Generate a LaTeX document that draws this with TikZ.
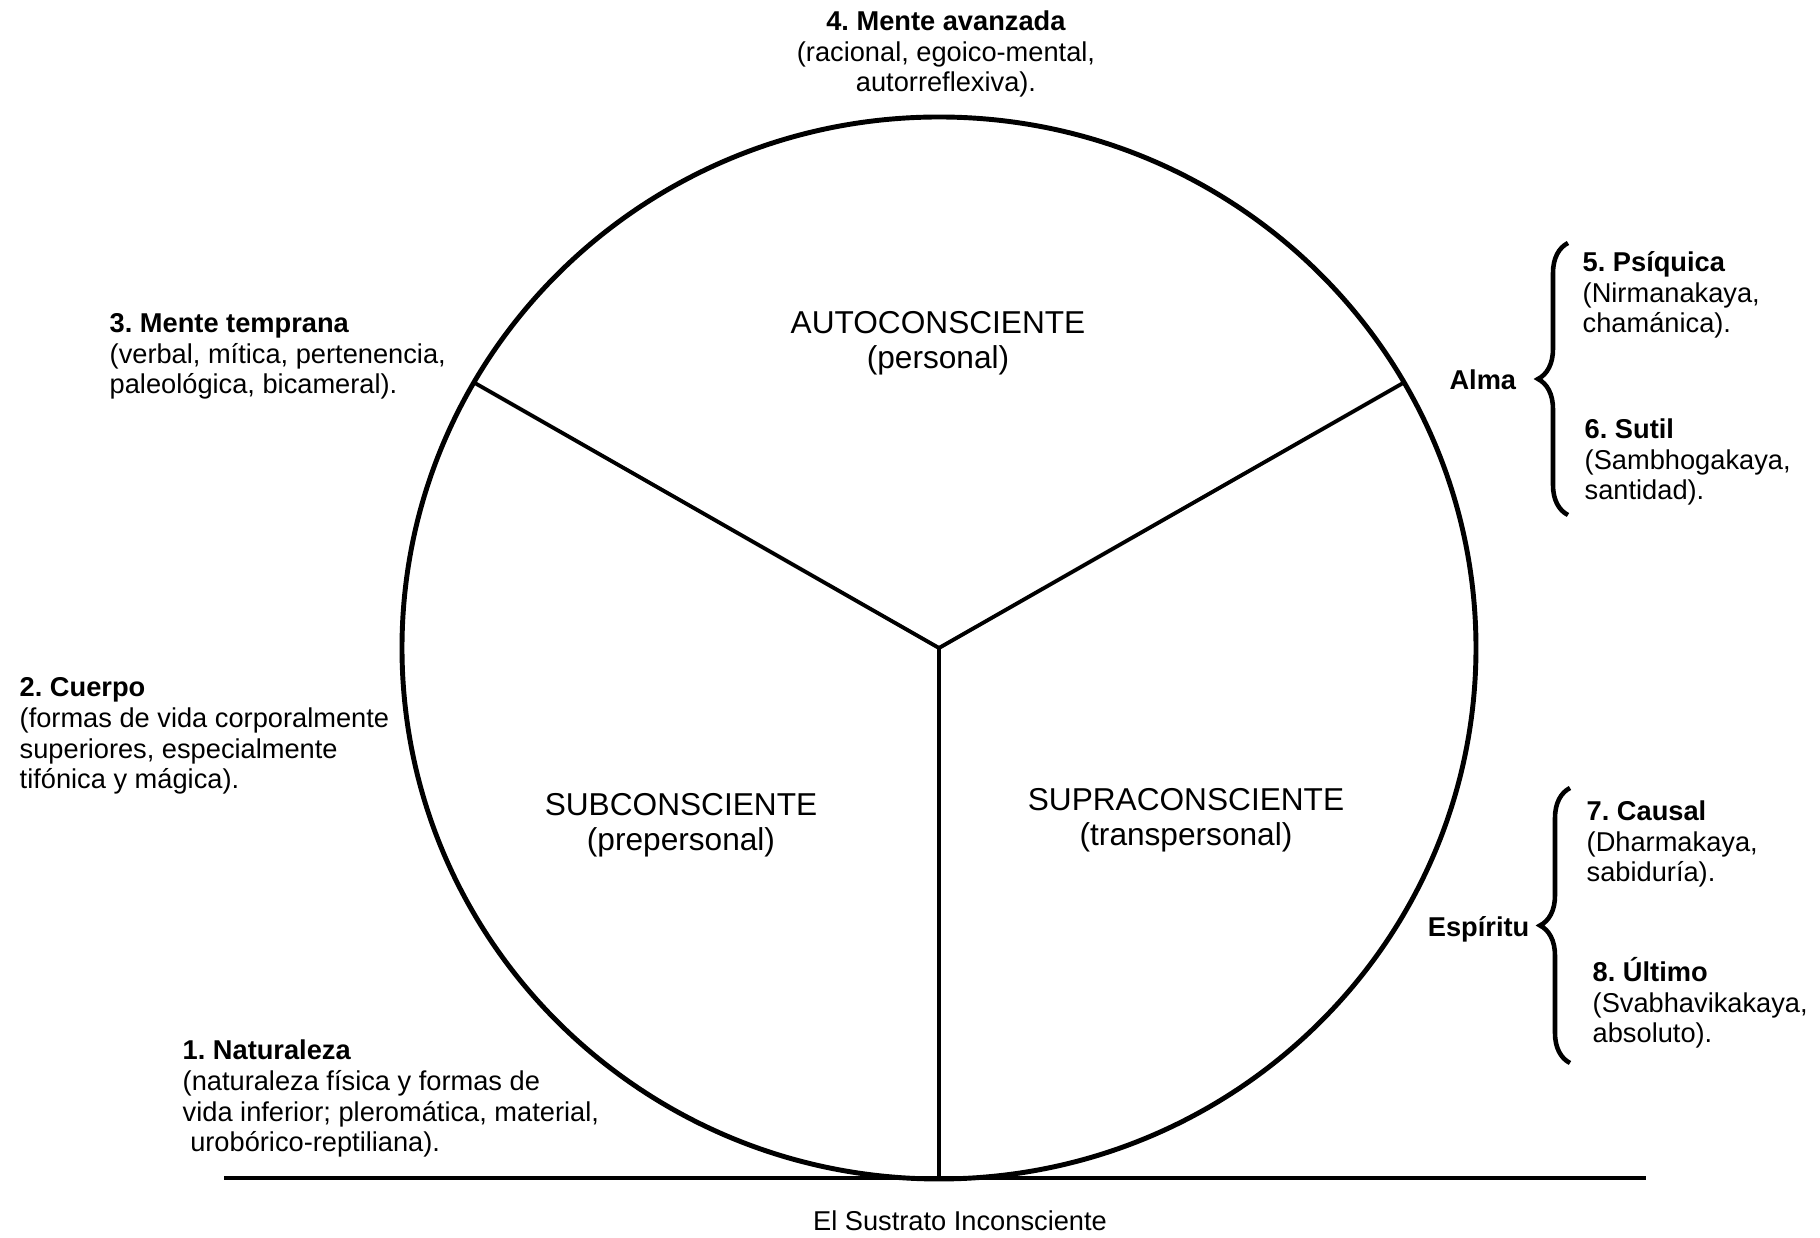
\documentclass[tikz,border=0pt]{standalone}
\usepackage{fontspec}
\setmainfont{Liberation Sans}
\usetikzlibrary{decorations.pathreplacing}
\frenchspacing

\begin{document}
\begin{tikzpicture}[
    lbl/.style={align=left, anchor=base west, inner sep=0pt, font=\fontsize{7.75}{8.8}\selectfont},
    zona/.style={align=center, anchor=base, inner sep=0pt, font=\fontsize{9}{10.1}\selectfont},
    llave/.style={decorate, decoration={brace, amplitude=3mm}, line width=1.3pt}
]
    \useasboundingbox (0,0) rectangle (18.2,12.38);
    \def\rx{5.37}
    \def\ry{5.31}

    % Circulo y sustrato
    \coordinate (c) at (9.39,5.90);
    \draw[line width=1.4pt] (c) ellipse[x radius=\rx, y radius=\ry];
    \coordinate (sl) at (2.24,0.60);
    \coordinate (sr) at (16.46,0.60);
    \draw[line width=1.3pt] (sl) -- (sr);

    % Tres sectores
    \path (c) ++(150:\rx cm and \ry cm) coordinate (a1);
    \path (c) ++(30:\rx cm and \ry cm) coordinate (a2);
    \coordinate (a3) at (c |- sl);
    \draw[line width=1.1pt] (c) -- (a1);
    \draw[line width=1.1pt] (c) -- (a2);
    \draw[line width=1.1pt] (c) -- (a3);

    \node[zona] (auto) at (9.38,8.69) {AUTOCONSCIENTE\\(personal)};
    \node[zona] (sub) at (6.81,3.87) {SUBCONSCIENTE\\(prepersonal)};
    \node[zona] (supra) at (11.86,3.92) {SUPRACONSCIENTE\\(transpersonal)};
    \node[lbl, anchor=base] (sustrato) at (9.60,0.07) {El Sustrato Inconsciente};

    % Niveles a la izquierda (base = ultima linea)
    \node[lbl, align=center, anchor=base] (avanzada) at (9.46,11.46)
        {\textbf{4. Mente avanzada}\\(racional, egoico-mental,\\autorreflexiva).};
    \node[lbl] (temprana) at (1.09,8.44)
        {\textbf{3. Mente temprana}\\(verbal, mítica, pertenencia,\\paleológica, bicameral).};
    \node[lbl] (cuerpo) at (0.19,4.49)
        {\textbf{2. Cuerpo}\\(formas de vida corporalmente\\superiores, especialmente\\tifónica y mágica).};
    \node[lbl] (naturaleza) at (1.82,0.86)
        {\textbf{1. Naturaleza}\\(naturaleza física y formas de\\vida inferior; pleromática, material,\\\ urobórico-reptiliana).};

    % Niveles a la derecha
    \node[lbl] (psiquica) at (15.82,9.05) {\textbf{5. Psíquica}\\(Nirmanakaya,\\chamánica).};
    \node[lbl] (sutil) at (15.84,7.38) {\textbf{6. Sutil}\\(Sambhogakaya,\\santidad).};
    \node[lbl] (causal) at (15.86,3.56) {\textbf{7. Causal}\\(Dharmakaya,\\sabiduría).};
    \node[lbl] (ultimo) at (15.92,1.95) {\textbf{8. Último}\\(Svabhavikakaya,\\absoluto).};

    \node[lbl, anchor=base east] (alma) at (15.17,8.48) {\textbf{Alma}};
    \node[lbl, anchor=base east] (espiritu) at (15.30,3.01) {\textbf{Espíritu}};

    \draw[llave] (15.68,7.23) -- (15.68,9.95);
    \draw[llave] (15.70,1.75) -- (15.70,4.50);
\end{tikzpicture}
\end{document}
